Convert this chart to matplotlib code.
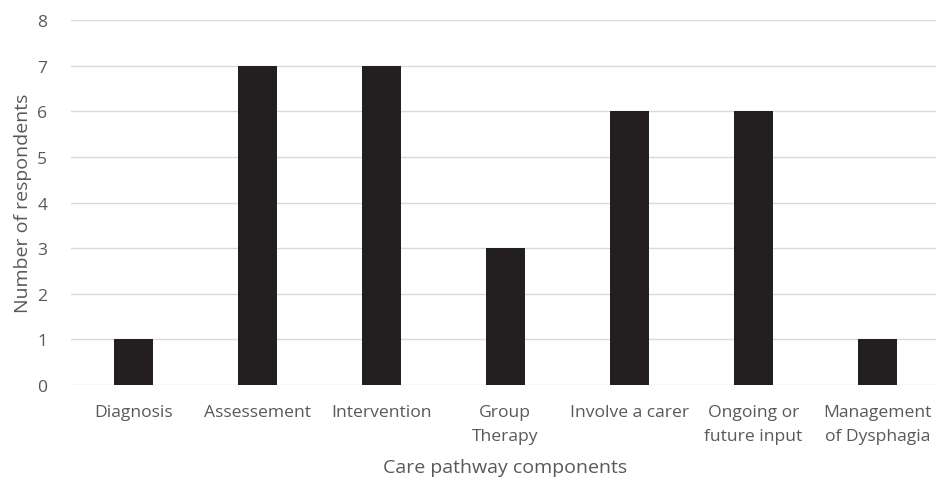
import matplotlib.pyplot as plt

# Data
components = ["Diagnosis", "Assessement", "Intervention", "Group\nTherapy",
              "Involve a carer", "Ongoing or\nfuture input", "Management\nof Dysphagia"]
respondents = [1, 7, 7, 3, 6, 6, 1]

plt.rcParams['font.family'] = ['Open Sans', 'DejaVu Sans']
text_color = "#595959"

fig = plt.figure(figsize=(9.37, 4.81), dpi=100)
ax = fig.add_axes([0.0758, 0.1975, 0.927, 0.7588])

x = range(len(components))
ax.bar(x, respondents, width=0.315, color="#231F20", zorder=3)

ax.set_xlim(-0.5, len(components) - 0.5)
ax.set_ylim(0, 8)
ax.set_yticks(range(0, 9))
ax.set_xticks(list(x))
ax.set_xticklabels(components, linespacing=1.65)

ax.grid(axis='y', color="#D9D9D9", linewidth=1.0, zorder=0)
for s in ax.spines.values():
    s.set_visible(False)
ax.tick_params(axis='both', length=0, labelsize=12.6, colors=text_color)
ax.tick_params(axis='x', pad=14)
ax.tick_params(axis='y', pad=17)

ax.set_xlabel("Care pathway components", fontsize=14, color=text_color, labelpad=10)
ax.set_ylabel("Number of respondents", fontsize=14, color=text_color, labelpad=4)

plt.savefig("out.png", dpi=100)
